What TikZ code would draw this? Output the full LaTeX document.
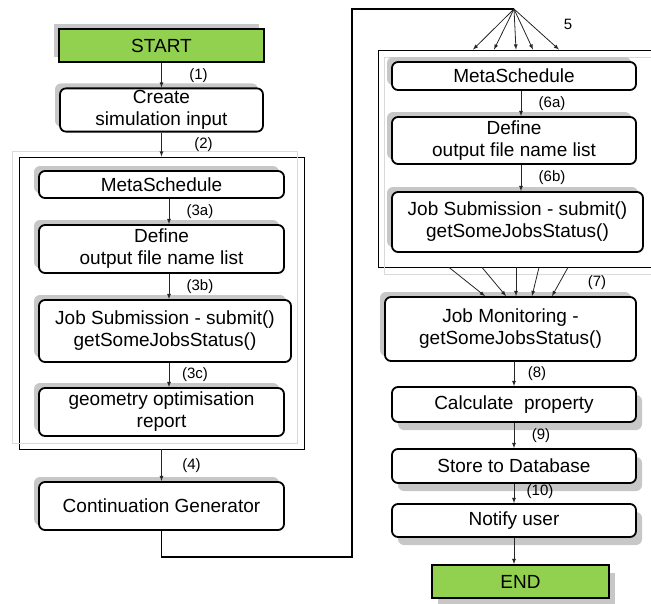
\documentclass[tikz,border=0pt]{standalone}
\usepackage{fontspec}
\setmainfont{Liberation Sans}
\usetikzlibrary{positioning, arrows, calc, shadows}

\definecolor{termgreen}{HTML}{92D050}

\tikzset{
  box/.style={draw, line width=1.8pt, rounded corners=6pt, fill=white, align=center,
    font=\fontsize{19}{22}\selectfont, inner sep=2pt, minimum width=245pt},
  term/.style={draw, line width=1.8pt, fill=termgreen, font=\fontsize{19}{22}\selectfont,
    minimum height=33pt},
  shul/.style={general shadow={fill=black!22, shadow xshift=-5pt, shadow yshift=5pt}},
  shdr/.style={general shadow={fill=black!22, shadow xshift=6pt, shadow yshift=-8pt}},
  frame/.style={draw, line width=0.8pt, inner sep=0pt},
  backframe/.style={draw=black!15, line width=1pt, inner sep=0pt},
  lbl/.style={font=\fontsize{15}{18}\selectfont, inner sep=0pt},
  flow/.style={->, draw=black!85, line width=0.8pt},
}

\begin{document}
\begin{tikzpicture}[x=1pt, y=-1pt, >=latex, on grid]
    \useasboundingbox (0,0) rectangle (651,603);

    % group frames
    \node[frame, minimum width=285pt, minimum height=292pt] (grp1) at (161.5,303) {};
    \node[backframe, minimum width=285pt, minimum height=292pt] (grp1b) at ([xshift=-7pt,yshift=6pt]grp1.center) {};
    \node[frame, minimum width=275pt, minimum height=217pt] (grp2) at (515.5,158.5) {};
    \node[backframe, minimum width=275pt, minimum height=217pt] (grp2b) at ([xshift=6pt,yshift=-7pt]grp2.center) {};

    % left column
    \node[term, shul, minimum width=205pt] (start) at (161.5,45.5) {START};
    \node[box, shul, minimum width=203pt, minimum height=42pt] (create) [below=64.5pt of start] {Create\\simulation input};
    \node[box, shul, minimum height=27pt] (ms1) [below=74.5pt of create] {MetaSchedule};
    \node[box, shul, minimum height=48pt] (def1) [below=64.5pt of ms1] {Define\\output file name list};
    \node[box, shul, minimum width=252pt, minimum height=62pt] (job1) [below=82pt of def1, xshift=3.5pt] {Job Submission - submit()\\getSomeJobsStatus()};
    \node[box, shul, minimum height=48pt] (geo1) [below=81pt of job1, xshift=-3.5pt] {geometry optimisation\\report};
    \node[box, shul, minimum height=48pt] (cont) [below=94pt of geo1] {Continuation Generator};

    % right column
    \node[box, shul, minimum width=244pt, minimum height=28pt] (ms2) at (514,76) {MetaSchedule};
    \node[box, shul, minimum width=244pt, minimum height=47pt] (def2) [below=64.5pt of ms2] {Define\\output file name list};
    \node[box, shul, minimum width=251pt, minimum height=60pt] (job2) [below=81.5pt of def2, xshift=3.5pt] {Job Submission - submit()\\getSomeJobsStatus()};
    \node[box, shul, minimum width=251pt, minimum height=64pt] (mon) [below=107pt of job2, xshift=-7pt] {Job Monitoring -\\getSomeJobsStatus()};
    \node[box, shdr, minimum width=244pt, minimum height=35pt] (calc) [below=75.5pt of mon, xshift=3.5pt] {Calculate\ \ property};
    \node[box, shdr, minimum width=244pt, minimum height=34pt] (store) [below=61.5pt of calc] {Store to Database};
    \node[box, shdr, minimum width=244pt, minimum height=33pt] (notify) [below=54.5pt of store] {Notify user};
    \node[term, shdr, minimum width=177pt] (fin) [below=61pt of notify, xshift=6.5pt] {END};

    \coordinate (turn) at (352,557);
    \coordinate (apex) at (514,9);

    % left flow
    \draw[flow] (start) -- node[lbl, xshift=37pt] (l1) {(1)} (create);
    \draw[flow] (create) -- node[lbl, xshift=42pt] (l2) {(2)} (create |- grp1.north);
    \draw[flow] ([xshift=7.5pt]ms1.south) -- node[lbl, xshift=31pt] (l3a) {(3a)} ([xshift=7.5pt]def1.north);
    \draw[flow] ([xshift=7.5pt]def1.south) -- node[lbl, xshift=31pt] (l3b) {(3b)} ([xshift=4pt]job1.north);
    \draw[flow] ([xshift=4pt]job1.south) -- node[lbl, xshift=26pt] (l3c) {(3c)} ([xshift=7.5pt]geo1.north);
    \draw[flow] (cont |- grp1.south) -- node[lbl, xshift=30pt] (l4) {(4)} (cont);

    % back to the top
    \draw[line width=1.8pt] (cont.south) |- (turn) |- (apex);
    \foreach \x in {473,494,516,533,559}
        \draw[flow] (apex) -- (\x,0 |- grp2.north);
    \node[lbl] (l5) at (568,24) {5};

    % right flow
    \draw[flow] ([xshift=7pt]ms2.south) -- node[lbl, xshift=31pt] (l6a) {(6a)} ([xshift=7pt]def2.north);
    \draw[flow] ([xshift=7pt]def2.south) -- node[lbl, xshift=31pt] (l6b) {(6b)} ([xshift=3.5pt]job2.north);
    \foreach \a/\b in {449/485, 482/506, 516/516, 539/532, 568/552}
        \draw[flow] (\a,0 |- grp2.south) -- (\b,0 |- mon.north);
    \node[lbl] (l7) at (597,283) {(7)};
    \draw[flow] ([xshift=3.5pt]mon.south) -- node[lbl, xshift=23pt] (l8) {(8)} (calc);
    \draw[flow] (calc) -- node[lbl, xshift=27pt] (l9) {(9)} (store);
    \draw[flow] (store) -- node[lbl, xshift=26pt, yshift=2pt] (l10) {(10)} (notify);
    \draw[flow] (notify) -- (notify |- fin.north);
\end{tikzpicture}
\end{document}
